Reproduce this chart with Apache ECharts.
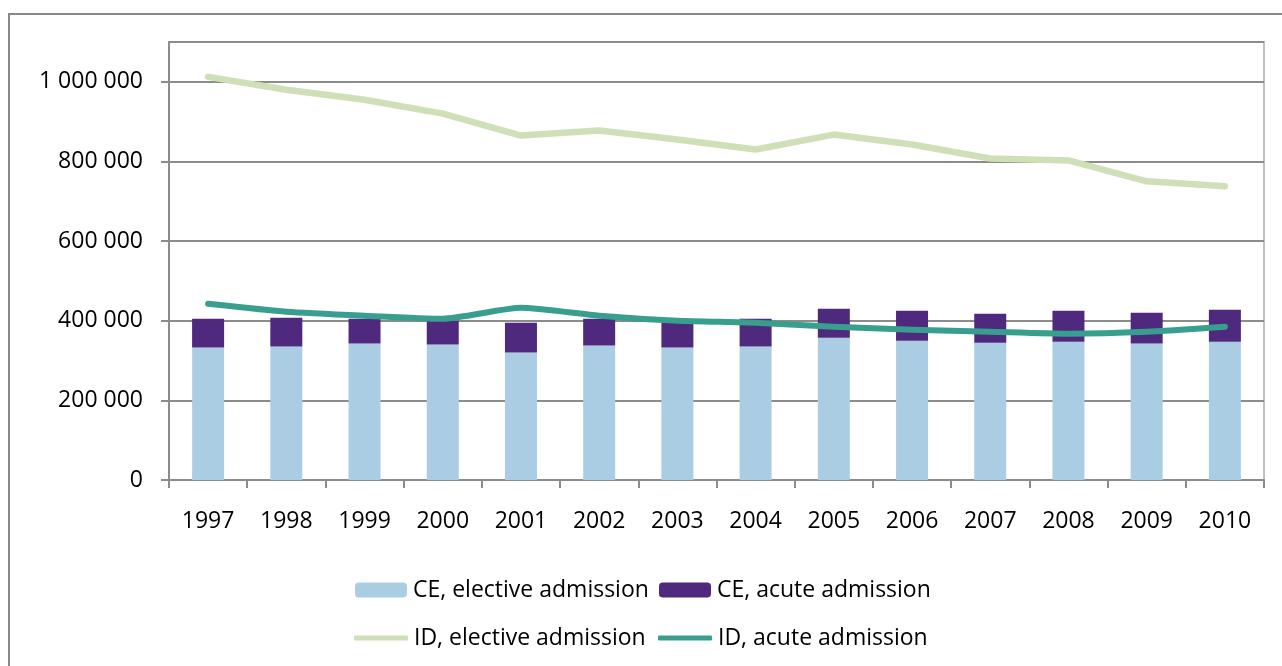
<!DOCTYPE html>
<html>
<head>
<meta charset="utf-8">
<script src="https://cdn.jsdelivr.net/npm/echarts@6/dist/echarts.min.js"></script>
<style>
  html, body { margin: 0; padding: 0; background: #fff; }
  #main { width: 1282px; height: 666px; }
</style>
</head>
<body>
<div id="main"></div>
<script>
// data
const years = ['1997', '1998', '1999', '2000', '2001', '2002', '2003', '2004', '2005', '2006', '2007', '2008', '2009', '2010'];
const ceElective = [332500, 335000, 342500, 340000, 320000, 337500, 332500, 335000, 357500, 350000, 345000, 347500, 342500, 347500];
const ceTotal = [405000, 407500, 405000, 400000, 395000, 405000, 400000, 405000, 430000, 425000, 417500, 425000, 420000, 427500];
const ceAcute = ceTotal.map((t, i) => t - ceElective[i]);
const idElective = [1012500, 980000, 955000, 920000, 865000, 877500, 855000, 830000, 867500, 842500, 807500, 802500, 750000, 737500];
const idAcute = [442500, 422500, 412500, 405000, 432500, 412500, 400000, 395000, 385000, 377500, 372500, 367500, 372500, 385000];

const FONT = 'Open Sans';
const gridGrey = '#8c8c8c';

const fmt = v => String(v).replace(/\B(?=(\d{3})+(?!\d))/g, ' ');

let chart = echarts.init(document.getElementById('main'));

const legendBase = {
  orient: 'horizontal',
  itemWidth: 52,
  itemHeight: 15,
  itemGap: 5,
  textStyle: { fontFamily: FONT, fontSize: 23, lineHeight: 24, color: '#000', padding: [0, 0, 0, 1] },
  padding: 0
};

let option = {
  animation: false,
  backgroundColor: '#fff',
  graphic: [
    {
      type: 'polyline',
      shape: { points: [[9, 700], [9, 14], [1300, 14]] },
      style: { stroke: '#888', lineWidth: 2, fill: null }
    }
  ],
  grid: {
    left: 169, top: 42, right: 18, bottom: 186,
    show: true, borderColor: '#c0c0c0', borderWidth: 2
  },
  legend: [
    Object.assign({}, legendBase, { left: 355, top: 578, data: ['CE, elective admission'] }),
    Object.assign({}, legendBase, { left: 659, top: 578, data: ['CE, acute admission'] }),
    Object.assign({}, legendBase, { left: 354, top: 626, itemWidth: 54, itemHeight: 5, data: [{ name: 'ID, elective admission', icon: 'roundRect' }] }),
    Object.assign({}, legendBase, { left: 658, top: 626, itemWidth: 54, itemHeight: 5, data: [{ name: 'ID, acute admission', icon: 'roundRect' }] })
  ],
  xAxis: {
    type: 'category',
    data: years,
    axisLine: { lineStyle: { color: gridGrey, width: 2 } },
    axisTick: { show: true, length: 8, lineStyle: { color: gridGrey, width: 2 } },
    axisLabel: { fontFamily: FONT, fontSize: 23, color: '#000', margin: 30 }
  },
  yAxis: {
    type: 'value',
    min: 0, max: 1100000, interval: 200000,
    axisLine: { show: true, lineStyle: { color: gridGrey, width: 2 } },
    axisTick: { show: true, length: 8, lineStyle: { color: gridGrey, width: 2 } },
    splitLine: { lineStyle: { color: gridGrey, width: 2 } },
    axisLabel: {
      fontFamily: FONT, fontSize: 23, color: '#000', margin: 26,
      showMaxLabel: false,
      formatter: v => (v > 1000000 ? '' : fmt(v))
    }
  },
  series: [
    {
      name: 'CE, elective admission', type: 'bar', stack: 'ce',
      data: ceElective, barWidth: 32,
      itemStyle: { color: '#aacde4' }
    },
    {
      name: 'CE, acute admission', type: 'bar', stack: 'ce',
      data: ceAcute, barWidth: 32,
      itemStyle: { color: '#4e297d' }
    },
    {
      name: 'ID, elective admission', type: 'line',
      data: idElective, symbol: 'none',
      lineStyle: { color: '#cfdfb7', width: 6.5, cap: 'round', join: 'round' },
      itemStyle: { color: '#cfdfb7' }
    },
    {
      name: 'ID, acute admission', type: 'line',
      data: idAcute, symbol: 'none', smooth: 0.2,
      lineStyle: { color: '#389e8e', width: 6, cap: 'round', join: 'round' },
      itemStyle: { color: '#389e8e' }
    }
  ]
};

chart.setOption(option);
</script>
</body>
</html>
